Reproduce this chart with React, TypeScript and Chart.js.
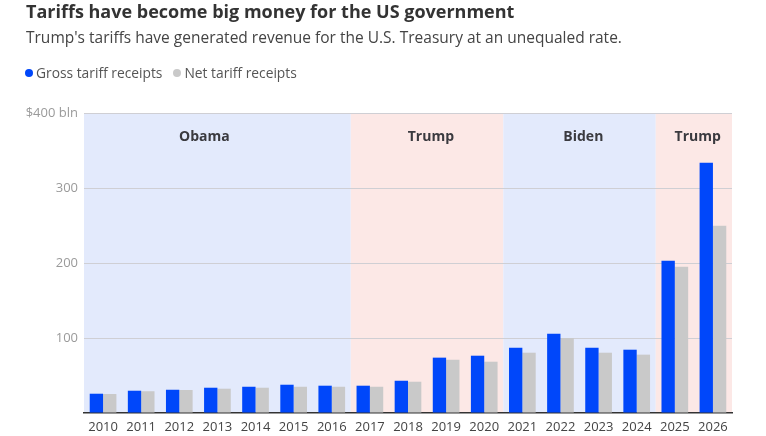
import React, { useEffect, useRef } from "react";
import { Chart, registerables } from "chart.js";

Chart.register(...registerables);

// Fiscal years shown on the x axis
const years = [
  "2010", "2011", "2012", "2013", "2014", "2015", "2016", "2017", "2018",
  "2019", "2020", "2021", "2022", "2023", "2024", "2025", "2026",
];

// Tariff receipts, $ billions
const grossReceipts = [25.7, 29.7, 31, 33.7, 35, 37.7, 36.4, 36.4, 43, 73.8, 76.4, 87, 105.8, 87, 84.4, 203, 333.7];
const netReceipts = [25.3, 29, 30.7, 32.4, 33.7, 35, 35, 35, 41.7, 71, 68.4, 80.4, 100, 80.4, 77.8, 195, 249.7];

// Presidential terms shaded behind the bars (first/last category index, label anchor index)
const termNames = ["Obama", "Trump", "Biden", "Trump"];
const termStart = [0, 7, 11, 15];
const termEnd = [6, 10, 14, 16];
const termLabelAt = [2.66, 8.6, 12.6, 15.6];
const termColors = ["#e3eafc", "#fce8e6", "#e3eafc", "#fce8e6"];

const yTicks = [0, 100, 200, 300, 400];

const FONT = "'Open Sans', sans-serif";

const termBands = {
  id: "termBands",
  beforeDraw(chart: any) {
    const { ctx, chartArea } = chart;
    const x = chart.scales.x;
    const half = (x.getPixelForValue(1) - x.getPixelForValue(0)) / 2;
    ctx.save();
    termNames.forEach((name, i) => {
      const left = x.getPixelForValue(termStart[i]) - half;
      const right = x.getPixelForValue(termEnd[i]) + half;
      ctx.fillStyle = termColors[i];
      ctx.fillRect(left, chartArea.top, right - left, chartArea.bottom - chartArea.top);
    });
    ctx.restore();
  },
  afterDatasetsDraw(chart: any) {
    const { ctx, chartArea } = chart;
    const x = chart.scales.x;
    ctx.save();
    ctx.fillStyle = "#3a3a3f";
    ctx.font = `bold 14px ${FONT}`;
    ctx.textAlign = "center";
    ctx.textBaseline = "middle";
    termNames.forEach((name, i) => {
      ctx.fillText(name, x.getPixelForValue(termLabelAt[i]), chartArea.top + 24);
    });
    ctx.restore();
  },
};

export default function App() {
  const canvasRef = useRef<HTMLCanvasElement | null>(null);

  useEffect(() => {
    const canvas = canvasRef.current;
    if (!canvas) return;
    const chart = new Chart(canvas, {
      type: "bar",
      data: {
        labels: years,
        datasets: [
          {
            label: "Gross tariff receipts",
            data: grossReceipts,
            backgroundColor: "#0047fa",
            categoryPercentage: 0.7,
            barPercentage: 1.0,
          },
          {
            label: "Net tariff receipts",
            data: netReceipts,
            backgroundColor: "#c9c9c9",
            categoryPercentage: 0.7,
            barPercentage: 1.0,
          },
        ],
      },
      options: {
        animation: false,
        responsive: false,
        maintainAspectRatio: false,
        devicePixelRatio: 1,
        layout: { padding: { left: 0, right: 34, top: 113, bottom: 0 } },
        plugins: {
          legend: { display: false },
          tooltip: { enabled: false },
          title: { display: false },
        },
        scales: {
          x: {
            grid: { display: false, drawTicks: false },
            border: { display: true, color: "#333", width: 1.5 },
            ticks: {
              color: "#444",
              font: { family: FONT, size: 13 },
              padding: 6,
              maxRotation: 0,
              autoSkip: false,
            },
            afterFit(scale: any) {
              scale.height = 23;
            },
          },
          y: {
            min: 0,
            max: 400,
            afterBuildTicks(scale: any) {
              scale.ticks = yTicks.map((v) => ({ value: v }));
            },
            border: { display: false },
            grid: {
              color: (c: any) => (c.tick && c.tick.value === 0 ? "rgba(0,0,0,0)" : "#cfcfd4"),
              drawTicks: false,
              lineWidth: 1,
            },
            ticks: {
              color: "#9a9a9a",
              font: { family: FONT, size: 13 },
              padding: 6,
              callback: (v: any) => (v === 0 ? "" : v === 400 ? "$400 bln" : String(v)),
            },
            afterFit(scale: any) {
              scale.width = 84;
            },
          },
        },
      },
      plugins: [termBands],
    });
    return () => chart.destroy();
  }, []);

  const dot = (color: string) => ({
    display: "inline-block",
    width: 8,
    height: 8,
    borderRadius: "50%",
    background: color,
    marginRight: 3,
    verticalAlign: "middle",
    position: "relative" as const,
    top: -1,
  });

  return (
    <div
      style={{
        position: "fixed",
        left: 0,
        top: 0,
        width: 766,
        height: 436,
        background: "#fff",
        fontFamily: FONT,
        overflow: "hidden",
      }}
    >
      <canvas ref={canvasRef} width={766} height={436} style={{ position: "absolute", left: 0, top: 0 }} />
      <div
        style={{
          position: "absolute",
          left: 26,
          top: 0,
          fontSize: 18,
          fontWeight: 700,
          color: "#333",
          lineHeight: "23px",
          whiteSpace: "nowrap",
        }}
      >
        Tariffs have become big money for the US government
      </div>
      <div
        style={{
          position: "absolute",
          left: 26,
          top: 26,
          fontSize: 15.5,
          color: "#444",
          lineHeight: "22px",
          whiteSpace: "nowrap",
        }}
      >
        Trump's tariffs have generated revenue for the U.S. Treasury at an unequaled rate.
      </div>
      <div
        style={{
          position: "absolute",
          left: 25,
          top: 63,
          fontSize: 13.8,
          color: "#555",
          lineHeight: "20px",
          whiteSpace: "nowrap",
        }}
      >
        <span style={dot("#0047fa")} />
        <span style={{ marginRight: 11 }}>Gross tariff receipts</span>
        <span style={dot("#c9c9c9")} />
        <span>Net tariff receipts</span>
      </div>
    </div>
  );
}
